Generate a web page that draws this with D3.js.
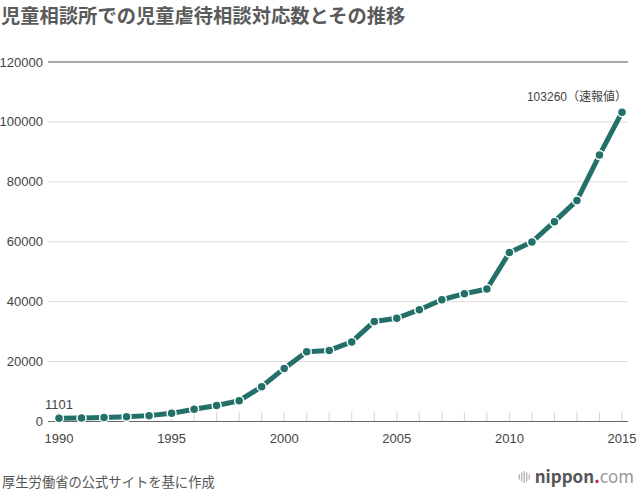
<!DOCTYPE html>
<html>
<head>
<meta charset="utf-8">
<script src="https://cdn.jsdelivr.net/npm/d3@7"></script>
<style>
  body { margin: 0; background: #fff; }
  text { font-family: "Noto Sans CJK JP", "Noto Sans", sans-serif; }
  .num { font-family: "Liberation Sans", "Noto Sans CJK JP", sans-serif; }
</style>
</head>
<body>
<svg id="chart" width="640" height="493"></svg>
<script>
// data
const years = d3.range(1990, 2016);
const counts = [1101, 1171, 1372, 1611, 1961, 2722, 4102, 5352, 6932, 11631,
  17725, 23274, 23738, 26569, 33408, 34472, 37323, 40639, 42664, 44211,
  56384, 59919, 66701, 73802, 88931, 103260];
const yTicks = [0, 20000, 40000, 60000, 80000, 100000, 120000];
const xTicks = [1990, 1995, 2000, 2005, 2010, 2015];

const color = '#23706b';
const svg = d3.select('#chart');

const x = d3.scaleLinear().domain([1990, 2015]).range([59, 622]);
const y = d3.scaleLinear().domain([0, 120000]).range([421.5, 62]);

// title
svg.append('text')
  .attr('x', 1).attr('y', 23)
  .attr('font-size', 19.3).attr('font-weight', 'bold')
  .attr('fill', '#5a5a5a')
  .text('児童相談所での児童虐待相談対応数とその推移');

// gridlines
const grid = svg.append('g');
grid.selectAll('line')
  .data(yTicks.filter(d => d > 0))
  .join('line')
  .attr('x1', 48).attr('x2', 628)
  .attr('y1', d => y(d)).attr('y2', d => y(d))
  .attr('stroke', d => d === 120000 ? '#a8a8a8' : '#dcdcdc')
  .attr('stroke-width', d => d === 120000 ? 2 : 1);

grid.selectAll('text')
  .data(yTicks)
  .join('text')
  .attr('class', 'num')
  .attr('x', 43).attr('y', d => y(d) + 4.5)
  .attr('text-anchor', 'end')
  .attr('font-size', 13).attr('fill', '#444')
  .text(d => d);

// x axis ticks
svg.append('g').selectAll('line')
  .data(years)
  .join('line')
  .attr('x1', d => x(d)).attr('x2', d => x(d))
  .attr('y1', 412).attr('y2', y(0))
  .attr('stroke', '#d5d5d5');

svg.append('line')
  .attr('x1', 48).attr('x2', 628)
  .attr('y1', y(0)).attr('y2', y(0))
  .attr('stroke', '#666').attr('stroke-width', 1.2);

svg.append('g').selectAll('text')
  .data(xTicks)
  .join('text')
  .attr('class', 'num')
  .attr('x', d => x(d)).attr('y', 443)
  .attr('text-anchor', 'middle')
  .attr('font-size', 13).attr('fill', '#444')
  .text(d => d);

// line + points
const pts = years.map((yr, i) => ({ year: yr, value: counts[i] }));

svg.append('path')
  .datum(pts)
  .attr('fill', 'none')
  .attr('stroke', color)
  .attr('stroke-width', 5)
  .attr('stroke-linejoin', 'round')
  .attr('d', d3.line().x(d => x(d.year)).y(d => y(d.value)));

svg.append('g').selectAll('circle')
  .data(pts)
  .join('circle')
  .attr('cx', d => x(d.year)).attr('cy', d => y(d.value))
  .attr('r', 4.5)
  .attr('fill', color)
  .attr('stroke', '#fff').attr('stroke-width', 1.5);

// annotations
svg.append('text')
  .attr('class', 'num')
  .attr('x', 45).attr('y', 409)
  .attr('font-size', 13).attr('fill', '#444')
  .text(counts[0]);

const last = svg.append('text')
  .attr('class', 'num')
  .attr('x', 627).attr('y', 101)
  .attr('text-anchor', 'end')
  .attr('font-size', 12).attr('fill', '#444');
last.append('tspan').text(counts[counts.length - 1]);
last.append('tspan').attr('font-family', '"Noto Sans CJK JP", sans-serif').text('（速報値）');

// footer
svg.append('text')
  .attr('x', 2).attr('y', 487)
  .attr('font-size', 13.3).attr('fill', '#555')
  .text('厚生労働省の公式サイトを基に作成');

// logo
const logo = svg.append('g').attr('transform', 'translate(0,483)');
const lt = logo.append('text')
  .attr('x', 634).attr('y', 0)
  .attr('text-anchor', 'end')
  .attr('font-family', '"Open Sans", sans-serif')
  .attr('font-size', 17);
lt.append('tspan').attr('font-weight', 'bold').attr('fill', '#555').text('nippon');
lt.append('tspan').attr('font-weight', 'bold').attr('fill', '#d7193a').text('.');
lt.append('tspan').attr('fill', '#999').text('com');
const lx = 634 - lt.node().getComputedTextLength() - 16;
[0, 2.5, 5, 7.5, 10].forEach((dx, i) => {
  const h = [5, 9, 12, 9, 5][i];
  logo.append('rect')
    .attr('x', lx + dx).attr('y', -6 - h / 2)
    .attr('width', 1.2).attr('height', h)
    .attr('fill', '#aaa');
});
</script>
</body>
</html>
